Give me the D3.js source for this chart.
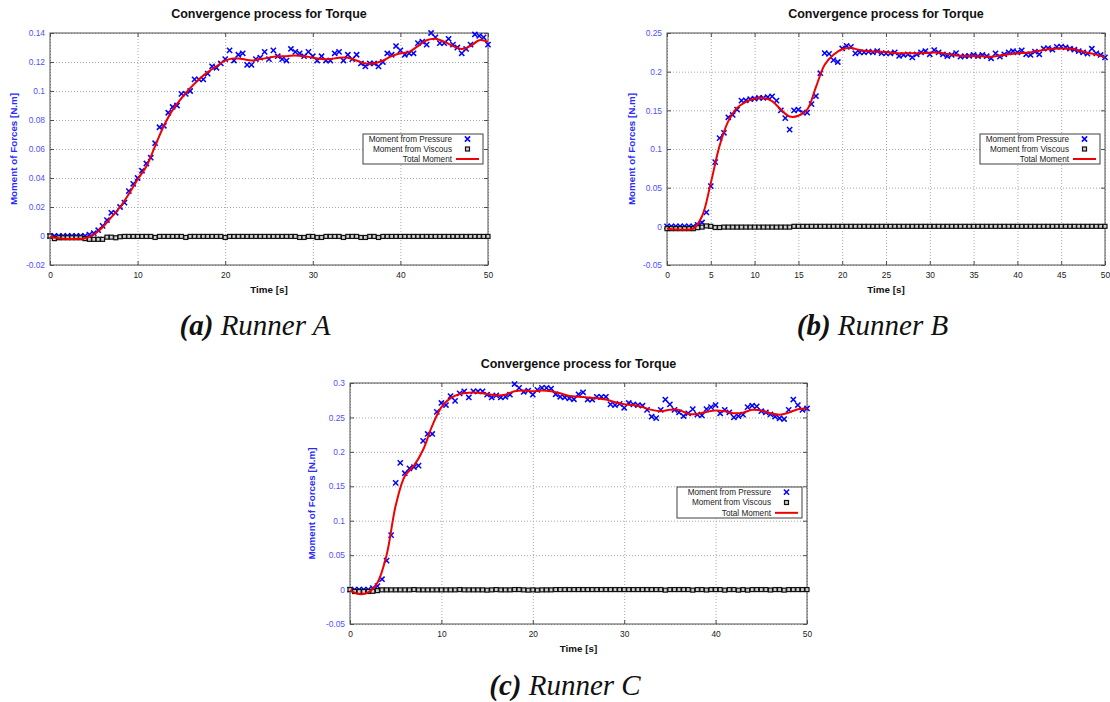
<!DOCTYPE html>
<html>
<head>
<meta charset="utf-8">
<script src="https://cdn.jsdelivr.net/npm/d3@7"></script>
<style>
  html, body { margin: 0; padding: 0; background: #ffffff; }
  svg { display: block; }
</style>
</head>
<body>
<svg id="chart" width="1110" height="702"></svg>
<script>
// ---------------- DATA ----------------
const chartTitle = "Convergence process for Torque";
const xAxisLabel = "Time [s]";
const yAxisLabel = "Moment of Forces [N.m]";
const legendLabels = ["Moment from Pressure", "Moment from Viscous", "Total Moment"];

// Sampling instants (s) of the marker series and of the total-moment curve
const sampleTimes = d3.range(0, 101).map(i => i * 0.5);
const curveTimes = d3.range(0, 51);

// Runner A
const pressureA = [
  0,0,0,0,0,0,0,0,0,0.001,
  0.002,0.004,0.007,0.011,0.016,0.016,0.02,0.023,0.031,0.036,
  0.04,0.045,0.05,0.054,0.064,0.075,0.076,0.085,0.089,0.09,
  0.098,0.098,0.1,0.108,0.108,0.108,0.112,0.117,0.116,0.119,
  0.122,0.128,0.121,0.125,0.126,0.118,0.118,0.122,0.123,0.127,
  0.122,0.128,0.124,0.122,0.121,0.129,0.127,0.126,0.124,0.127,
  0.124,0.121,0.124,0.121,0.121,0.126,0.127,0.121,0.125,0.122,
  0.125,0.119,0.117,0.119,0.119,0.117,0.12,0.126,0.125,0.131,
  0.128,0.125,0.126,0.126,0.133,0.134,0.132,0.14,0.137,0.133,
  0.133,0.136,0.132,0.13,0.126,0.129,0.132,0.139,0.138,0.137,
  0.132
];
const viscousA = [
  0,-0.0018,-0.0012,-0.0012,-0.0012,-0.0012,-0.0012,-0.0012,-0.0018,-0.0023,
  -0.0023,-0.0023,-0.0023,-0.0008,-0.0008,-0.0012,-0.0005,-0.0003,-0.0003,-0.0003,
  -0.0003,-0.0003,-0.0003,-0.0003,-0.001,-0.0003,-0.0003,-0.0003,-0.0003,-0.0003,
  -0.0003,-0.001,-0.0003,-0.0003,-0.0003,-0.0003,-0.0003,-0.0003,-0.0003,-0.0003,
  -0.001,-0.0003,-0.0003,-0.0003,-0.0003,-0.0003,-0.0003,-0.0003,-0.0003,-0.0003,
  -0.0003,-0.0003,-0.0003,-0.0003,-0.0003,-0.0003,-0.0003,-0.001,-0.001,-0.0003,
  -0.0003,-0.001,-0.001,-0.0003,-0.0003,-0.0003,-0.0003,-0.001,-0.0003,-0.0003,
  -0.0003,-0.001,-0.001,-0.0003,-0.0003,-0.001,-0.0003,-0.0003,-0.0003,-0.0003,
  -0.0003,-0.0003,-0.0003,-0.0003,-0.0003,-0.0003,-0.0003,-0.0003,-0.0003,-0.0003,
  -0.0003,-0.0003,-0.0003,-0.0003,-0.0003,-0.0003,-0.0003,-0.0003,-0.0003,-0.0003,
  -0.0003
];
const totalA = [
  -0.0005,-0.0015,-0.002,-0.002,-0.0015,0.001,0.006,0.013,0.02,0.029,
  0.039,0.048,0.062,0.076,0.087,0.095,0.102,0.108,0.113,0.117,
  0.121,0.1225,0.122,0.121,0.122,0.123,0.124,0.124,0.1245,0.124,
  0.123,0.122,0.122,0.123,0.123,0.121,0.119,0.119,0.121,0.124,
  0.126,0.127,0.131,0.135,0.136,0.134,0.131,0.129,0.131,0.135,
  0.134
];

// Runner B
const pressureB = [
  0,0,0,0,0,0,0,0.002,0.005,0.018,
  0.052,0.083,0.114,0.121,0.141,0.144,0.151,0.1625,0.163,0.1645,
  0.165,0.166,0.166,0.167,0.168,0.1625,0.15,0.14,0.125,0.15,
  0.151,0.147,0.147,0.158,0.1685,0.198,0.224,0.223,0.215,0.2125,
  0.23,0.2335,0.232,0.2237,0.225,0.225,0.2258,0.225,0.2267,0.224,
  0.2237,0.2237,0.225,0.2203,0.2216,0.2225,0.2185,0.2225,0.225,0.2267,
  0.2225,0.228,0.225,0.2225,0.22,0.2216,0.224,0.2194,0.22,0.2203,
  0.2216,0.22,0.2216,0.22,0.2173,0.2237,0.2194,0.2225,0.225,0.2267,
  0.225,0.2275,0.2225,0.2216,0.2258,0.2225,0.2297,0.2305,0.2284,0.232,
  0.2323,0.2315,0.2297,0.2284,0.2267,0.225,0.2233,0.2297,0.2237,0.2216,
  0.2185
];
const viscousB = [
  -0.003,-0.003,-0.003,-0.003,-0.003,-0.003,-0.003,-0.0017,-0.001,0.0005,
  0,-0.0015,-0.0015,-0.001,-0.001,-0.001,-0.001,-0.001,-0.001,-0.001,
  -0.001,-0.001,-0.001,-0.001,-0.001,-0.001,-0.001,-0.001,-0.001,0,
  0,0,0,0,0,0,0,0,0,0,
  0,0,0,0,0,0,0,0,0,0,
  0,0,0,0,0,0,0,0,0,0,
  0,0,0,0,0,0,0,0,0,0,
  0,0,0,0,0,0,0,0,0,0,
  0,0,0,0,0,0,0,0,0,0,
  0,0,0,0,0,0,0,0,0,0,
  0
];
const totalB = [
  -0.003,-0.004,-0.0045,-0.003,0.013,0.056,0.104,0.136,0.153,0.161,
  0.165,0.166,0.162,0.151,0.142,0.143,0.151,0.18,0.209,0.222,
  0.229,0.2305,0.228,0.2265,0.226,0.2255,0.224,0.2237,0.2237,0.2237,
  0.2245,0.2245,0.223,0.221,0.2203,0.2203,0.2198,0.2194,0.221,0.2225,
  0.2237,0.2245,0.2258,0.228,0.2295,0.23,0.2295,0.2275,0.2245,0.222,
  0.2185
];

// Runner C
const pressureC = [
  0,0,0,0,0,0.002,0.005,0.015,0.042,0.079,
  0.155,0.184,0.169,0.176,0.178,0.18,0.216,0.226,0.226,0.258,
  0.271,0.268,0.281,0.274,0.285,0.288,0.279,0.288,0.288,0.288,
  0.283,0.279,0.282,0.279,0.28,0.283,0.2985,0.293,0.287,0.289,
  0.283,0.29,0.293,0.293,0.292,0.2836,0.28,0.279,0.2778,0.2764,
  0.2836,0.2865,0.276,0.276,0.28,0.28,0.28,0.269,0.268,0.2696,
  0.264,0.271,0.269,0.268,0.267,0.261,0.251,0.249,0.261,0.276,
  0.269,0.261,0.2575,0.252,0.256,0.262,0.254,0.253,0.262,0.265,
  0.268,0.256,0.261,0.2575,0.25,0.252,0.254,0.265,0.267,0.266,
  0.259,0.2575,0.2545,0.251,0.2488,0.2477,0.261,0.276,0.268,0.261,
  0.263
];
const viscousC = [
  0,-0.0028,-0.0028,-0.0028,-0.0028,-0.0025,-0.0015,-0.0004,-0.0004,-0.0004,
  -0.0004,-0.0004,-0.0004,-0.0004,0,-0.0004,-0.0004,-0.0004,-0.0004,-0.0004,
  -0.0004,-0.0004,-0.0004,-0.0004,0,-0.0004,-0.0004,-0.0004,-0.0004,-0.0004,
  -0.0008,-0.0004,0,-0.0004,-0.0004,-0.0004,0,0,-0.0004,-0.0008,
  -0.0004,-0.0008,-0.0004,-0.0004,-0.0004,0,0,0,0,0,
  0,0,0,0,0,0,0,0,0,0,
  0,0,0,0,0,0,0,0,0,-0.0008,
  0,0,0,0,0,-0.0008,0,0,-0.0006,0,
  0,0,-0.0008,0,0,-0.0008,0,-0.0008,0,0,
  0,0,-0.0006,0,0,-0.0008,0,0,0,0,
  0
];
const totalC = [
  -0.001,-0.0065,-0.004,0.01,0.05,0.122,0.165,0.18,0.203,0.238,
  0.265,0.278,0.284,0.286,0.286,0.284,0.282,0.283,0.288,0.289,
  0.288,0.289,0.288,0.285,0.281,0.28,0.279,0.278,0.276,0.272,
  0.269,0.268,0.265,0.261,0.259,0.261,0.261,0.255,0.255,0.258,
  0.26,0.259,0.256,0.257,0.261,0.26,0.256,0.254,0.257,0.262,
  0.263
];

// Axis ticks
const xTicksA = [0, 10, 20, 30, 40, 50];
const yTicksA = [-0.02, 0, 0.02, 0.04, 0.06, 0.08, 0.1, 0.12, 0.14];
const xTicksB = [0, 5, 10, 15, 20, 25, 30, 35, 40, 45, 50];
const yTicksB = [-0.05, 0, 0.05, 0.1, 0.15, 0.2, 0.25];
const xTicksC = [0, 10, 20, 30, 40, 50];
const yTicksC = [-0.05, 0, 0.05, 0.1, 0.15, 0.2, 0.25, 0.3];

// Captions
const captionTags = ["(a)", "(b)", "(c)"];
const captionNames = ["Runner A", "Runner B", "Runner C"];

// ---------------- LAYOUT ----------------
const panels = [
  { pressure: pressureA, viscous: viscousA, total: totalA, xTicks: xTicksA, yTicks: yTicksA,
    yDomain: [-0.02, 0.14], box: { left: 50, right: 488, top: 33, bottom: 265 },
    yLabelX: 13.5, legend: { left: 363, right: 483, top: 134, bottom: 164 },
    caption: { x: 255, y: 335 }, tag: captionTags[0], name: captionNames[0] },
  { pressure: pressureB, viscous: viscousB, total: totalB, xTicks: xTicksB, yTicks: yTicksB,
    yDomain: [-0.05, 0.25], box: { left: 667, right: 1105, top: 33, bottom: 265 },
    yLabelX: 631, legend: { left: 980, right: 1100, top: 134, bottom: 164 },
    caption: { x: 872.5, y: 335 }, tag: captionTags[1], name: captionNames[1] },
  { pressure: pressureC, viscous: viscousC, total: totalC, xTicks: xTicksC, yTicks: yTicksC,
    yDomain: [-0.05, 0.3], box: { left: 350, right: 807, top: 383, bottom: 624 },
    yLabelX: 311.5, legend: { left: 677, right: 802, top: 487, bottom: 518 },
    caption: { x: 565, y: 695 }, tag: captionTags[2], name: captionNames[2] }
];

const SANS = "'Liberation Sans', Arial, sans-serif";
const SERIF = "'Liberation Serif', 'Times New Roman', serif";
const BLUE = "#0000ff";
const RED = "#f00000";
const FRAME = "#505050";
const crossPath = "M-2.6,-2.6L2.6,2.6M-2.6,2.6L2.6,-2.6";

const svg = d3.select("#chart");

function drawPanel(p) {
  const b = p.box;
  const x = d3.scaleLinear().domain([0, 50]).range([b.left, b.right]);
  const y = d3.scaleLinear().domain(p.yDomain).range([b.bottom, b.top]);
  const g = svg.append("g");

  // grid (dotted)
  const grid = g.append("g").attr("class", "grid");
  grid.append("g").attr("transform", `translate(0,${b.bottom})`)
    .call(d3.axisBottom(x).tickValues(p.xTicks).tickSize(-(b.bottom - b.top)).tickFormat(""));
  grid.append("g").attr("transform", `translate(${b.left},0)`)
    .call(d3.axisLeft(y).tickValues(p.yTicks).tickSize(-(b.right - b.left)).tickFormat(""));
  grid.selectAll(".domain").remove();
  grid.selectAll(".tick line").attr("stroke", "#a8a8a8").attr("stroke-width", 1)
    .attr("stroke-dasharray", "1,2");

  // axes with inward ticks
  const axB = g.append("g").attr("transform", `translate(0,${b.bottom})`)
    .call(d3.axisBottom(x).tickValues(p.xTicks).tickSizeInner(-4).tickSizeOuter(0).tickPadding(7).tickFormat(String));
  const axL = g.append("g").attr("transform", `translate(${b.left},0)`)
    .call(d3.axisLeft(y).tickValues(p.yTicks).tickSizeInner(-4).tickSizeOuter(0).tickPadding(5).tickFormat(String));
  const axT = g.append("g").attr("transform", `translate(0,${b.top})`)
    .call(d3.axisBottom(x).tickValues(p.xTicks).tickSizeInner(4).tickSizeOuter(0).tickFormat(""));
  const axR = g.append("g").attr("transform", `translate(${b.right},0)`)
    .call(d3.axisLeft(y).tickValues(p.yTicks).tickSizeInner(4).tickSizeOuter(0).tickFormat(""));
  [axB, axL, axT, axR].forEach(a => {
    a.select(".domain").remove();
    a.selectAll(".tick line").attr("stroke", FRAME).attr("stroke-width", 1);
  });
  axB.selectAll(".tick text").attr("font-family", SANS).attr("font-size", 8.4).attr("fill", "#202020");
  axL.selectAll(".tick text").attr("font-family", SANS).attr("font-size", 8.4).attr("fill", "#5050ff");

  // frame
  g.append("rect").attr("x", b.left).attr("y", b.top)
    .attr("width", b.right - b.left).attr("height", b.bottom - b.top)
    .attr("fill", "none").attr("stroke", FRAME).attr("stroke-width", 1);

  // series
  const plot = g.append("g");
  plot.selectAll("path.press").data(p.pressure).join("path").attr("class", "press")
    .attr("d", crossPath)
    .attr("transform", (d, i) => `translate(${x(sampleTimes[i])},${y(d)})`)
    .attr("fill", "none").attr("stroke", BLUE).attr("stroke-width", 1.5);
  plot.selectAll("rect.visc").data(p.viscous).join("rect").attr("class", "visc")
    .attr("x", (d, i) => x(sampleTimes[i]) - 2).attr("y", d => y(d) - 2)
    .attr("width", 4).attr("height", 4)
    .attr("fill", "#d0d0d0").attr("stroke", "#111").attr("stroke-width", 1.2);
  const line = d3.line().x((d, i) => x(curveTimes[i])).y(d => y(d)).curve(d3.curveCatmullRom.alpha(0.5));
  plot.append("path").datum(p.total).attr("d", line)
    .attr("fill", "none").attr("stroke", RED).attr("stroke-width", 2);

  // title & axis labels
  const cx = (b.left + b.right) / 2;
  g.append("text").attr("x", cx).attr("y", b.top - 15).attr("text-anchor", "middle")
    .attr("font-family", SANS).attr("font-weight", "bold").attr("font-size", 12.5)
    .attr("fill", "#111").text(chartTitle);
  g.append("text").attr("x", cx).attr("y", b.bottom + 28).attr("text-anchor", "middle")
    .attr("font-family", SANS).attr("font-weight", "bold").attr("font-size", 9.8)
    .attr("fill", "#111").text(xAxisLabel);
  g.append("text")
    .attr("transform", `translate(${p.yLabelX},${(b.top + b.bottom) / 2}) rotate(-90)`)
    .attr("text-anchor", "middle").attr("dominant-baseline", "central")
    .attr("font-family", SANS).attr("font-weight", "bold").attr("font-size", 9.8)
    .attr("fill", "#2a2aff").text(yAxisLabel);

  // legend
  const L = p.legend;
  const lg = g.append("g");
  lg.append("rect").attr("x", L.left).attr("y", L.top)
    .attr("width", L.right - L.left).attr("height", L.bottom - L.top)
    .attr("fill", "#fff").attr("stroke", "#404040").attr("stroke-width", 1);
  const rowH = (L.bottom - L.top) / 3;
  legendLabels.forEach((lab, k) => {
    const ry = L.top + rowH * (k + 0.5);
    lg.append("text").attr("x", L.right - 31).attr("y", ry).attr("dy", "0.35em")
      .attr("text-anchor", "end").attr("font-family", SANS).attr("font-size", 8.2)
      .attr("fill", "#222").text(lab);
    const sx = L.right - 15.5;
    if (k === 0) {
      lg.append("path").attr("d", crossPath).attr("transform", `translate(${sx},${ry})`)
        .attr("fill", "none").attr("stroke", BLUE).attr("stroke-width", 1.5);
    } else if (k === 1) {
      lg.append("rect").attr("x", sx - 2).attr("y", ry - 2).attr("width", 4).attr("height", 4)
        .attr("fill", "#d0d0d0").attr("stroke", "#111").attr("stroke-width", 1.2);
    } else {
      lg.append("line").attr("x1", L.right - 27).attr("x2", L.right - 4)
        .attr("y1", ry).attr("y2", ry).attr("stroke", RED).attr("stroke-width", 2);
    }
  });

  // caption
  const cap = svg.append("text").attr("x", p.caption.x).attr("y", p.caption.y)
    .attr("text-anchor", "middle").attr("font-family", SERIF).attr("font-size", 29)
    .attr("font-style", "italic").attr("fill", "#111");
  cap.append("tspan").attr("font-weight", "bold").text(p.tag);
  cap.append("tspan").text("\u00a0" + p.name);
}

panels.forEach(drawPanel);
</script>
</body>
</html>
